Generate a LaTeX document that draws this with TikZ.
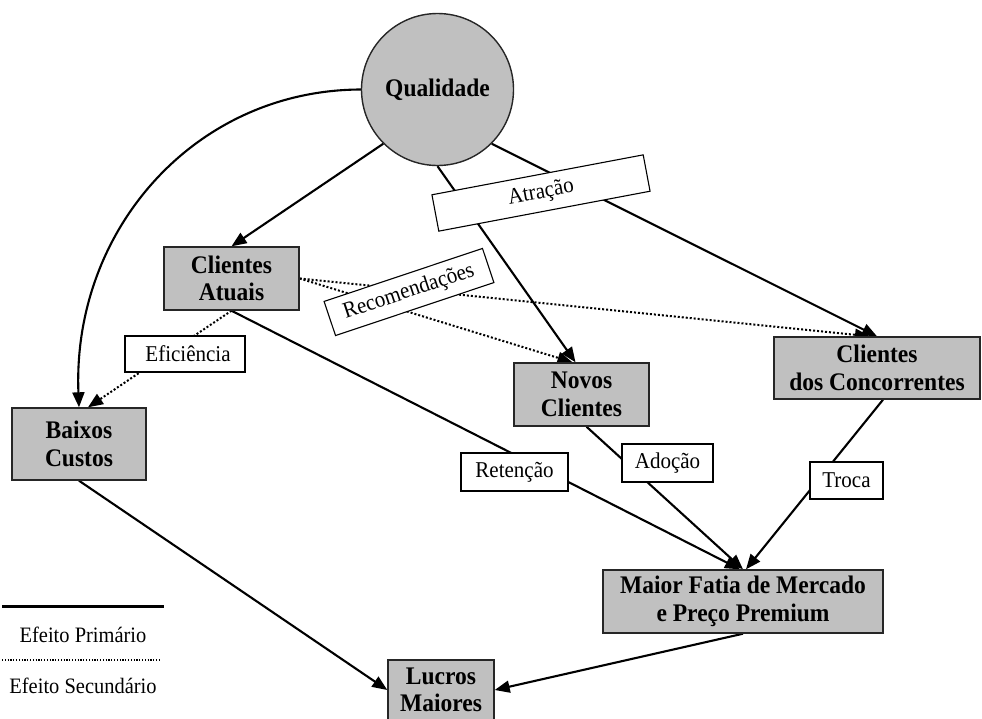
\documentclass[tikz,border=0pt]{standalone}
\usepackage{fontspec}
% a slightly narrowed Times-metric serif, as the chart's lettering is tall and tight
\setmainfont[FakeStretch=0.93]{Liberation Serif}
\usetikzlibrary{arrows.meta,calc,backgrounds}
\definecolor{boxgray}{HTML}{C0C0C0}
\begin{document}
\begin{tikzpicture}[x=1pt,y=-1pt,
  effect/.style={draw=black!85,line width=1.4pt,fill=boxgray,align=center,inner sep=0pt,
    font=\fontsize{25.3}{27.5}\selectfont\bfseries},
  tag/.style={draw=black,line width=1.1pt,fill=white,inner sep=0pt,
    font=\fontsize{22.6}{24}\selectfont},
  legendtext/.style={inner sep=0pt,font=\fontsize{22}{24}\selectfont},
  primary/.style={line width=2.1pt,-{Triangle[length=15pt,width=12pt]}},
  secondary/.style={line width=2pt,dash pattern=on 2pt off 2pt,
    -{Triangle[length=15pt,width=12pt]}},
]
\useasboundingbox (0,0) rectangle (982,718);

% effect nodes
\node[effect,circle,minimum size=152pt] (Q) at (437.5,89.5) {Qualidade};
\node[effect,minimum width=135pt,minimum height=63pt] (CA) at (231.5,278.5) {Clientes\\Atuais};
\node[effect,minimum width=135pt,minimum height=63pt] (NC) at (581.5,394.5) {Novos\\Clientes};
\node[effect,minimum width=206pt,minimum height=62pt] (CC) at (877,368) {Clientes\\dos Concorrentes};
\node[effect,minimum width=134pt,minimum height=72pt] (BC) at (79,444) {Baixos\\Custos};
\node[effect,minimum width=280pt,minimum height=63pt] (MF) at (743,601.5) {Maior Fatia de Mercado\\e Preço Premium};
\node[effect,minimum width=106pt,minimum height=60pt] (LM) at (441,690) {Lucros\\Maiores};

% mechanism labels laid over the connectors
\node[tag,minimum width=120pt,minimum height=36pt] (eff) at (185,354) {\hspace*{6pt}Eficiência};
\node[tag,minimum width=107pt,minimum height=38pt] (ret) at (514.5,472) {Retenção};
\node[tag,minimum width=91pt,minimum height=38pt] (ado) at (667.5,463) {Adoção};
\node[tag,minimum width=73pt,minimum height=37pt] (tro) at (846.5,480.5) {Troca};
\node[tag,minimum width=215pt,minimum height=37pt,rotate=10.7] (atr) at (541,193) {Atração};
\node[tag,minimum width=167pt,minimum height=36pt,rotate=18.5] (rec) at (409,292) {Recomendações};

% connectors, kept beneath the boxes
\begin{scope}[on background layer]
  \draw[primary] (Q.-135) -- (CA.north);
  \draw[primary] (Q.south) -- ($(NC.north)+(-6,0)$);
  \draw[primary] (Q.-45) -- (CC.north);
  \draw[primary] (Q.west) .. controls (195,90) and (72,230) .. (BC.north);
  \draw[secondary] (CA.east) -- ($(NC.north)+(-9,0)$);
  \draw[secondary] (CA.east) -- ($(CC.north)+(-7,0)$);
  \draw[secondary] (CA.south) -- ($(BC.north)+(9,0)$);
  \draw[primary] (CA.south) -- ($(MF.north)+(-3,0)$);
  \draw[primary] ($(NC.south)+(5,0)$) -- (MF.north);
  \draw[primary] ($(CC.south)+(6,0)$) -- ($(MF.north)+(3,0)$);
  \draw[primary] (BC.south) -- (LM.west);
  \draw[primary] (MF.south) -- (LM.east);
\end{scope}

% legend
\coordinate (p1) at (2,606);
\coordinate (p2) at (164,606);
\coordinate (s1) at (2,660);
\coordinate (s2) at (160,660);
\draw[line width=3pt] (p1) -- (p2);
\node[legendtext] (lp) at (83,635) {Efeito Primário};
\draw[line width=1.2pt,dash pattern=on 1.2pt off 1.6pt] (s1) -- (s2);
\node[legendtext] (ls) at (83,686) {Efeito Secundário};
\end{tikzpicture}
\end{document}
